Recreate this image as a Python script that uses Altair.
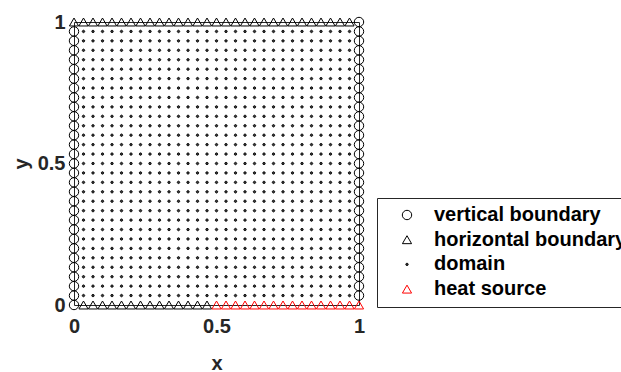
import altair as alt
import pandas as pd

# Grid of the discretised unit square (31 nodes per side, spacing 1/30)
grid = [i / 30 for i in range(31)]

categories = ["vertical boundary", "horizontal boundary", "domain", "heat source"]
colors = ["black", "black", "black", "red"]
# solid-looking small dot: two concentric stroked rings
DOT = ("M-1,0A1,1 0 1,0 1,0A1,1 0 1,0 -1,0Z"
       "M-0.45,0A0.45,0.45 0 1,0 0.45,0A0.45,0.45 0 1,0 -0.45,0Z")
shapes = ["circle", "triangle-up", DOT, "triangle-up"]
sizes = [88, 84, 6, 84]
x_ticks = [0, 0.5, 1]
y_ticks = [0, 0.5, 1]

rows = []
# vertical boundary: left side (y = 0 .. 29/30), right side (y = 1/30 .. 1)
for y in grid[0:30]:
    rows.append((0.0, y, categories[0]))
for y in grid[1:31]:
    rows.append((1.0, y, categories[0]))
# horizontal boundary: top side (x = 0 .. 29/30), bottom side (x = 1/30 .. 14/30)
for x in grid[0:30]:
    rows.append((x, 1.0, categories[1]))
for x in grid[1:15]:
    rows.append((x, 0.0, categories[1]))
# interior domain
for x in grid[1:30]:
    for y in grid[1:30]:
        rows.append((x, y, categories[2]))
# heat source on bottom side (x = 0.5 .. 1)
for x in grid[15:31]:
    rows.append((x, 0.0, categories[3]))

df = pd.DataFrame(rows, columns=["x", "y", "type"])
df["order"] = range(len(df))

FONT = "Liberation Sans"
AX = "#262626"

chart = (
    alt.Chart(df)
    .mark_point(filled=False, strokeWidth=1, opacity=1)
    .encode(
        x=alt.X(
            "x:Q",
            scale=alt.Scale(domain=[0, 1], nice=False, zero=False),
            axis=alt.Axis(values=x_ticks, format="~g", title="x", labelPadding=11,
                          titlePadding=17, labelFlush=False),
        ),
        y=alt.Y(
            "y:Q",
            scale=alt.Scale(domain=[0, 1], nice=False, zero=False),
            axis=alt.Axis(values=y_ticks, format="~g", title="y", labelPadding=9,
                          titlePadding=6, labelFlush=False),
        ),
        color=alt.Color(
            "type:N",
            scale=alt.Scale(domain=categories, range=colors),
            legend=alt.Legend(title=None),
        ),
        shape=alt.Shape(
            "type:N",
            scale=alt.Scale(domain=categories, range=shapes),
            legend=alt.Legend(title=None),
        ),
        size=alt.Size(
            "type:N",
            scale=alt.Scale(type="ordinal", domain=categories, range=sizes),
            legend=alt.Legend(title=None),
        ),
        order=alt.Order("order:Q"),
    )
    .properties(
        width=285,
        height=283,
        autosize=alt.AutoSizeParams(type="none"),
        padding={"left": 74, "top": 22, "right": 262, "bottom": 67},
    )
    .configure_view(stroke=AX, strokeWidth=1)
    .configure_axis(
        domain=False,
        grid=False,
        ticks=False,
        tickSize=0,
        labelFont=FONT,
        labelFontSize=20,
        labelFontWeight="bold",
        labelColor=AX,
        titleFont=FONT,
        titleFontSize=20,
        titleFontWeight="bold",
        titleColor=AX,
    )
    .configure_legend(
        orient="none",
        legendX=303,
        legendY=176,
        strokeColor=AX,
        fillColor="white",
        padding=7,
        rowPadding=4.7,
        labelFont=FONT,
        labelFontSize=20,
        labelFontWeight="bold",
        labelColor="black",
        symbolStrokeWidth=1,
        symbolOffset=13,
        labelOffset=17,
        labelLimit=400,
    )
)

chart.save("out.html", embed_options={"renderer": "svg", "actions": False})
